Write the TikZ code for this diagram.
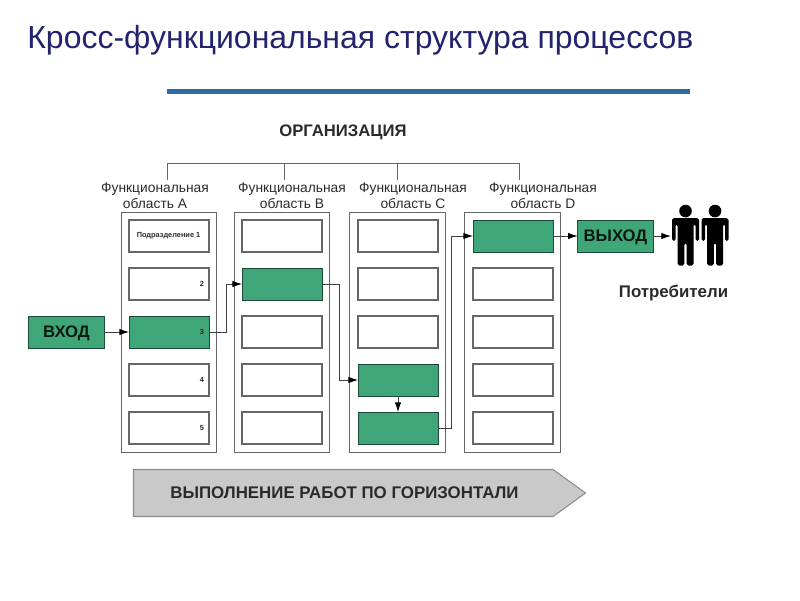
\documentclass[tikz,border=0pt]{standalone}
\usepackage{fontspec}
\setmainfont{Liberation Sans}
\usepackage{xcolor}
\usetikzlibrary{arrows.meta,calc}
\definecolor{titleblue}{HTML}{23236E}
\definecolor{barblue}{HTML}{2F6AA8}
\definecolor{stepgreen}{HTML}{3FA67A}
\definecolor{edgegray}{HTML}{666666}
\definecolor{textdark}{HTML}{2A2A2A}

\begin{document}
\begin{tikzpicture}[
    x=0.02cm, y=-0.02cm,
    font=\bfseries\color{textdark},
    area/.style={rectangle, draw=edgegray, line width=0.6pt, fill=white, inner sep=0pt, minimum width=54.5pt, minimum height=137pt},
    unit/.style={rectangle, draw=edgegray, line width=0.7pt, fill=white, inner sep=0pt, outer sep=0pt, minimum width=45.5pt, minimum height=18.2pt},
    active/.style={draw=black!55!stepgreen, line width=0.5pt, fill=stepgreen},
    a3/.style={active}, b2/.style={active}, c4/.style={active}, c5/.style={active}, d1/.style={active},
    arealabel/.style={align=center, font=\fontsize{7.85}{9}\selectfont\color{textdark}},
    smalltext/.style={font=\bfseries\fontsize{4.2}{5}\selectfont\color{textdark}},
    terminal/.style={rectangle, draw=black!55!stepgreen, line width=0.5pt, fill=stepgreen, inner sep=0pt, outer sep=0pt, minimum width=43pt, minimum height=18.2pt, text depth=0pt, font=\bfseries\fontsize{9.5}{11}\selectfont\color{black!85!stepgreen}},
    arrow/.style={-{Latex[length=5.5pt,width=3.6pt,black]}, line width=0.45pt, draw=black!75},
    tree/.style={line width=0.55pt, draw=edgegray}
  ]
    \useasboundingbox (0,0) rectangle (800,600);

    \node[anchor=west, inner sep=0pt, font=\fontsize{18.2}{21}\selectfont\color{titleblue}] (title) at (27,40) {Кросс-функциональная структура процессов};
    \fill[barblue] (167,88.5) rectangle (690,93.5);

    \node[text depth=0pt, font=\bfseries\fontsize{9.5}{11}\selectfont\color{textdark}] (org) at (343,131) {ОРГАНИЗАЦИЯ};

    % columns with their five units
    \foreach \c/\x/\ux/\tx/\lx/\L in {a/169/169/167/155/A,b/282/282/284/292/B,c/397.5/398/397/413/C,d/512.5/513/519/543/D} {
      \node[area] (area\c) at (\x,332.5) {};
      \node[arealabel] (label\c) at (\lx,196) {Функциональная\\область \L};
      \coordinate (top\c) at (\tx,180);
      \foreach \i/\y in {1/236,2/284,3/332,4/380,5/428} {
        \node[unit, \c\i/.try] (\c\i) at (\ux,\y) {};
      }
    }

    \coordinate (bar) at (0,163);
    \draw[tree] (topa) |- (bar -| topd) -- (topd);
    \draw[tree] (topb) -- (topb |- bar);
    \draw[tree] (topc) -- (topc |- bar);

    \node[smalltext] (sub1) at (168.5,236) {Подразделение 1};
    \foreach \i/\y in {2/284,3/332,4/380,5/428} {
      \node[smalltext] (num\i) at (202,\y) {\i};
    }

    \node[terminal] (in) at (66.5,332) {ВХОД};
    \node[terminal] (out) at (615.5,236) {ВЫХОД};

    % two consumers
    \foreach \n/\x in {p/685.5,q/715} {
      \begin{scope}[shift={(\x,0)}]
        \fill[black] (0,211) circle (6.3);
        \fill[black, rounded corners=1pt] (-13.5,218) -- (13.5,218) -- (13.5,241) -- (10,241) -- (10,224) -- (8,224) -- (8,265.5) -- (1.2,265.5) -- (1.2,243) -- (-1.2,243) -- (-1.2,265.5) -- (-8,265.5) -- (-8,224) -- (-10,224) -- (-10,241) -- (-13.5,241) -- cycle;
      \end{scope}
    }
    \coordinate (people) at (671,236);
    \node[font=\bfseries\fontsize{9.6}{11}\selectfont\color{textdark}] (cons) at (673.5,293) {Потребители};

    \draw[arrow] (in) -- (a3);
    \draw[arrow] (a3.east) -- ++(17,0) |- (b2.west);
    \draw[arrow] (b2.east) -- ++(17,0) |- (c4.west);
    \draw[arrow] (c4) -- (c5);
    \draw[arrow] (c5.east) -- ++(13,0) |- (d1.west);
    \draw[arrow] (d1) -- (out);
    \draw[arrow] (out) -- (people);

    \draw[draw=black!45, line width=0.6pt, fill=black!21] (133.5,469.5) -- (553,469.5) -- (585.5,493) -- (553,516.5) -- (133.5,516.5) -- cycle;
    \node[font=\bfseries\fontsize{9.6}{11}\selectfont\color{textdark}] (work) at (344.5,493) {ВЫПОЛНЕНИЕ РАБОТ ПО ГОРИЗОНТАЛИ};
  \end{tikzpicture}
\end{document}
